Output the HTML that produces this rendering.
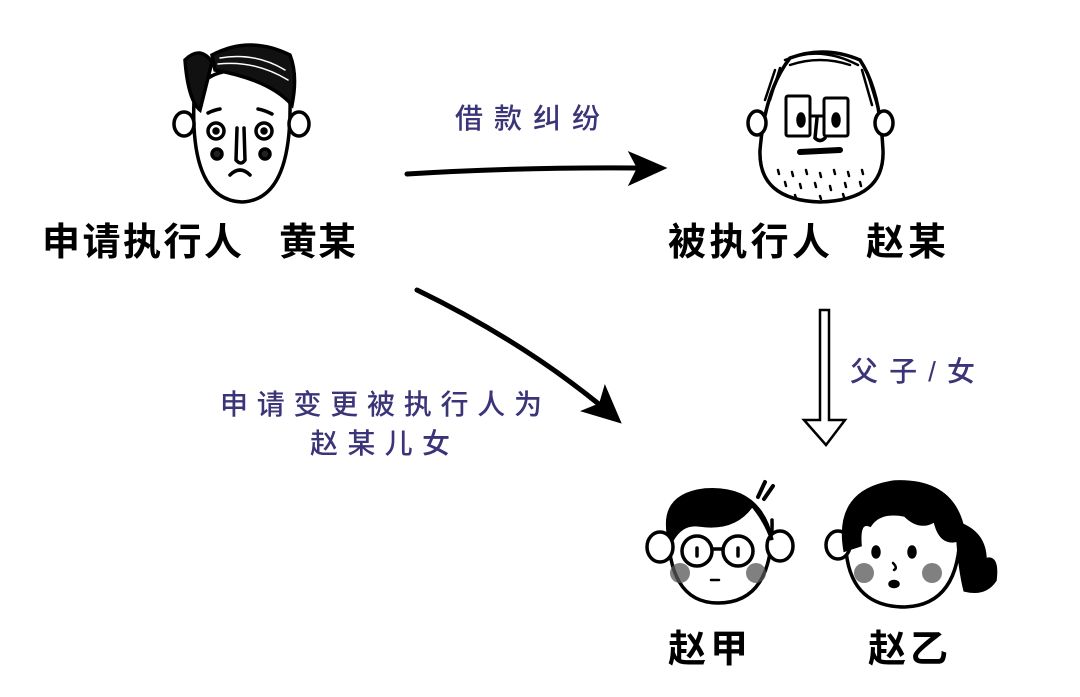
<!DOCTYPE html>
<html><head><meta charset="utf-8"><style>
html,body{margin:0;padding:0;background:#fff;}
svg{display:block}
.b{font-family:"Liberation Sans","Noto Sans CJK SC",sans-serif;font-weight:bold;fill:#000;font-size:38px}
.p{font-family:"Liberation Sans","Noto Sans CJK SC",sans-serif;fill:#3b3478;font-size:28px;font-weight:500}
</style></head><body>
<svg width="1080" height="697" viewBox="0 0 1080 697" xmlns="http://www.w3.org/2000/svg">
<g stroke="#000" stroke-width="3.5" fill="none" stroke-linecap="round">
<!-- Huang face -->
<path d="M194 100 Q190 200 242 202 Q292 200 290 100" fill="#fff"/>
<path d="M194 100 Q200 70 242 70 Q288 72 290 100"/>
<ellipse cx="184" cy="124" rx="10" ry="12" fill="#fff"/>
<ellipse cx="299" cy="124" rx="10" ry="12" fill="#fff"/>
<path d="M185 60 Q200 45 212 62 L200 110 Q188 100 185 60Z" fill="#111"/>
<path d="M212 55 Q250 35 290 55 Q298 75 292 105 Q270 80 215 70Z" fill="#111"/>
<path d="M220 58 Q255 52 285 70 M218 64 Q255 60 288 80" stroke="#fff" stroke-width="1.5"/>
<circle cx="216" cy="131" r="8"/><circle cx="264" cy="131" r="8"/>
<circle cx="216" cy="131" r="2" fill="#000"/><circle cx="264" cy="131" r="2" fill="#000"/>
<path d="M208 113 Q214 110 220 109 M258 109 Q264 110 272 114"/>
<path d="M237 128 L236 160 Q241 166 245 160 L244 128"/>
<circle cx="217" cy="154" r="5" fill="#222"/><circle cx="265" cy="154" r="5" fill="#222"/>
<path d="M230 175 Q240 165 250 175"/>
<!-- Zhao face -->
<path d="M790 58 Q765 90 760 150 Q758 200 820 202 Q885 200 883 150 Q880 90 860 60 Q825 45 790 58Z" fill="#fff"/>
<ellipse cx="757" cy="123" rx="9" ry="12" fill="#fff"/>
<ellipse cx="884" cy="123" rx="9" ry="12" fill="#fff"/>
<path d="M785 60 Q820 45 858 65 M790 65 Q820 55 850 65 M775 70 L765 100 M780 68 L770 100 M862 70 L872 105 M867 72 L878 108" stroke-width="2.5"/>
<rect x="786" y="96" width="24" height="40" rx="2" stroke-width="3"/>
<rect x="824" y="98" width="24" height="38" rx="2" stroke-width="3"/>
<path d="M810 116 L824 116" stroke-width="3"/>
<ellipse cx="801" cy="120" rx="3" ry="6" fill="#000"/><ellipse cx="836" cy="120" rx="3" ry="6" fill="#000"/>
<path d="M817 118 L815 138 Q820 143 825 138"/>
<path d="M800 152 L840 150" stroke-width="6"/>
<g stroke-width="2.5"><path d="M778 170 l1 4 M792 172 l1 4 M806 170 l1 4 M820 173 l1 4 M834 170 l1 4 M848 172 l1 4 M862 170 l1 4 M785 182 l1 4 M800 184 l1 4 M815 183 l1 4 M830 186 l1 4 M845 183 l1 4 M860 182 l1 4 M795 195 l1 3 M820 196 l1 3 M843 194 l1 3"/></g>
<!-- Zhao Jia -->
<path d="M668 520 Q666 603 718 603 Q774 603 772 520" fill="#fff"/>
<ellipse cx="660" cy="547" rx="13" ry="15" fill="#fff"/><ellipse cx="780" cy="546" rx="13" ry="15" fill="#fff"/>
<path d="M668 530 Q664 495 705 490 Q760 486 772 540 Q765 520 752 505 Q735 530 700 525 Q682 522 672 540Z" fill="#000"/>
<path d="M758 497 L765 482 M764 499 L773 486" stroke-width="4"/>
<circle cx="697" cy="551" r="15" fill="#fff"/><circle cx="738" cy="551" r="15" fill="#fff"/>
<path d="M712 549 L723 549"/>
<path d="M697 548 L697 556 M738 548 L738 556"/>
<circle cx="680" cy="573" r="10" fill="#555" stroke="none" opacity=".75"/><circle cx="756" cy="573" r="10" fill="#555" stroke="none" opacity=".75"/>
<path d="M711 580 L719 580" stroke-width="2.5"/>
<!-- Zhao Yi -->
<path d="M846 525 Q840 607 905 607 Q960 605 960 530" fill="#fff"/>
<ellipse cx="838" cy="545" rx="12" ry="14" fill="#fff"/>
<path d="M845 550 Q835 490 895 482 Q950 480 962 525 Q985 535 985 560 Q998 555 995 580 Q985 595 965 590 Q960 570 958 540 Q940 545 935 520 Q920 530 905 515 Q880 510 870 525 Q858 520 860 545 Z" fill="#000"/>
<ellipse cx="876" cy="552" rx="3" ry="5" fill="#000"/><ellipse cx="912" cy="552" rx="3" ry="5" fill="#000"/>
<path d="M893 563 Q898 568 894 570" stroke-width="2.5"/>
<ellipse cx="894" cy="584" rx="4" ry="2.5" fill="#000"/>
<circle cx="864" cy="573" r="10" fill="#555" stroke="none" opacity=".75"/><circle cx="932" cy="573" r="10" fill="#555" stroke="none" opacity=".75"/>
<!-- arrows -->
<path d="M407 174 Q520 167 640 168" stroke-width="5"/>
<path d="M665 168 L630 153 L638 168 L630 184Z" fill="#000" stroke-width="2"/>
<path d="M417 290 Q520 340 600 405" stroke-width="5"/>
<path d="M620 422 L583 411 L600 404 L605 387Z" fill="#000" stroke-width="2"/>
<path d="M820 310 L820 420 L804 420 L826 445 L845 420 L829 420 L829 310Z" stroke-width="2.5"/>
</g>
<text class="b" x="42" y="255" textLength="200" lengthAdjust="spacing">申请执行人</text>
<text class="b" x="279" y="255" textLength="77" lengthAdjust="spacing">黄某</text>
<text class="b" x="668" y="255" textLength="162" lengthAdjust="spacing">被执行人</text>
<text class="b" x="866" y="255" textLength="80" lengthAdjust="spacing">赵某</text>
<text class="b" x="668" y="662" textLength="80" lengthAdjust="spacing">赵甲</text>
<text class="b" x="868" y="662" textLength="80" lengthAdjust="spacing">赵乙</text>
<text class="p" x="455" y="128" textLength="145" lengthAdjust="spacing">借款纠纷</text>
<text class="p" x="220" y="414" textLength="322" lengthAdjust="spacing">申请变更被执行人为</text>
<text class="p" x="310" y="453" textLength="140" lengthAdjust="spacing">赵某儿女</text>
<text class="p" x="850" y="381" textLength="125" lengthAdjust="spacing">父子/女</text>
</svg>
</body></html>
